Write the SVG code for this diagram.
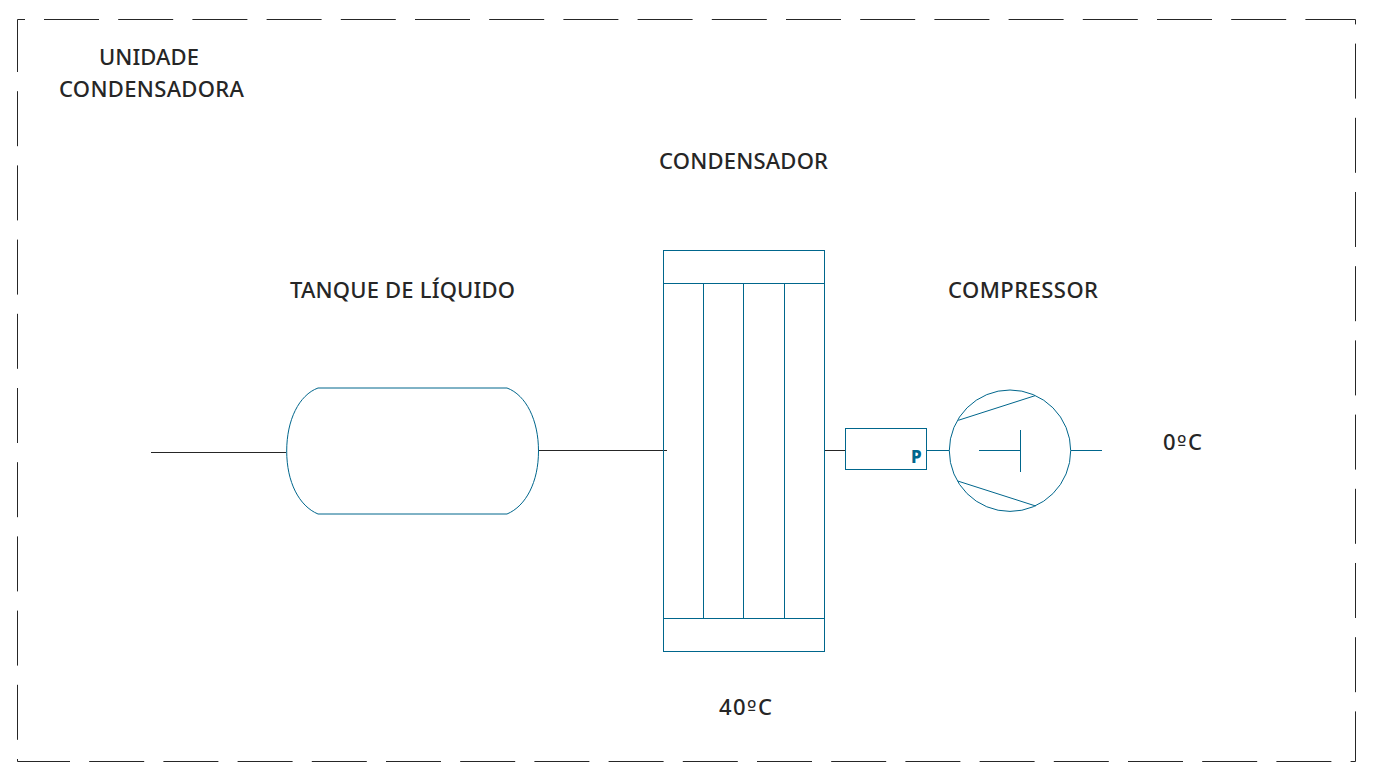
<svg xmlns="http://www.w3.org/2000/svg" width="1374" height="784" viewBox="0 0 1374 784">
<style>
text{font-family:"Noto Sans","Open Sans","Liberation Sans",sans-serif;font-size:22px;font-weight:500;fill:#262626}
.o{font-family:"DejaVu Sans",sans-serif;font-size:20px}
.b{fill:none;stroke:#00668c;stroke-width:1}
.k{fill:none;stroke:#262626;stroke-width:1}
</style>
<rect width="1374" height="784" fill="#fff"/>
<g id="frame">
<path class="k" stroke-dasharray="55 19.2" d="M44 19.5H1355.5V761.5H17.5V19.5"/>
<path class="k" d="M17.5 19.5H25"/>
</g>
<g id="connectors">
<path class="k" d="M151 452.5H286"/>
<path class="k" d="M539 450.5H667"/>
<path class="k" d="M824.5 450.5H845"/>
<path class="b" d="M927 450.5H949"/>
<path class="b" d="M1071 450.5H1102"/>
</g>
<g id="tanque">
<path class="b" d="M318 388H507C526 395 538.5 420 538.5 451C538.5 482 526 506 507 514H318C299 506 286.7 482 286.7 451C286.7 420 299 395 318 388Z"/>
<text x="290" y="298" textLength="225">TANQUE DE LÍQUIDO</text>
</g>
<g id="condensador">
<rect class="b" x="663.5" y="250.5" width="161" height="401"/>
<path class="b" d="M663.5 283.5H824.5M663.5 618.5H824.5M703.5 283.5V618.5M743.5 283.5V618.5M784.5 283.5V618.5"/>
<text x="659" y="169" textLength="169">CONDENSADOR</text>
<text x="719" y="715" textLength="53">40<tspan class="o">º</tspan>C</text>
</g>
<g id="pressostato">
<rect class="b" x="845.5" y="428.5" width="81" height="41"/>
<text x="911" y="463" style="font-size:17px;font-weight:800;fill:#00668c">P</text>
</g>
<g id="compressor">
<circle class="b" cx="1010" cy="450.7" r="60.7"/>
<path class="b" d="M958.3 420.3L1035 395.7M957.7 481L1035.7 506M979 450.5H1020.5M1020.5 430V472"/>
<text x="948" y="298" textLength="150">COMPRESSOR</text>
<text x="1163" y="450" textLength="39">0<tspan class="o">º</tspan>C</text>
</g>
<g id="unidade">
<text x="99" y="65" textLength="100">UNIDADE</text>
<text x="59" y="97" textLength="185">CONDENSADORA</text>
</g>
</svg>
